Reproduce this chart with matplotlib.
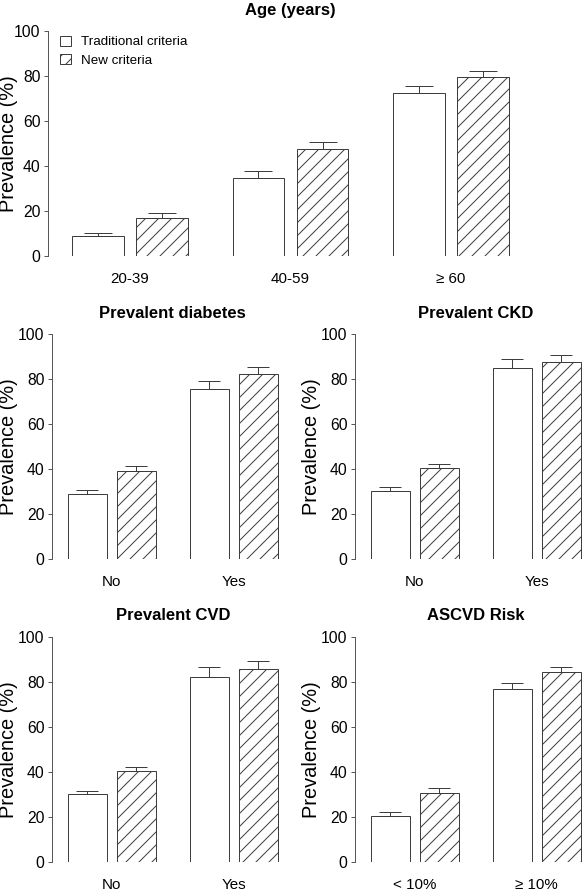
import numpy as np
import matplotlib
matplotlib.use('Agg')
import matplotlib.pyplot as plt

plt.rcParams['font.family'] = ['Liberation Sans', 'DejaVu Sans']
plt.rcParams['hatch.linewidth'] = 0.9
plt.rcParams['hatch.color'] = '#3a3a3a'

#data (prevalence %, upper error)
age_groups = ['20-39', '40-59', '\u2265 60']
age_trad = [8.9, 34.5, 72.3]
age_trad_err = [1.3, 3.1, 3.1]
age_new = [17.0, 47.6, 79.7]
age_new_err = [2.0, 3.1, 2.4]

yes_no = ['No', 'Yes']
dm_trad = [28.6, 75.7]
dm_trad_err = [1.8, 3.5]
dm_new = [38.9, 82.2]
dm_new_err = [2.2, 3.0]

ckd_trad = [30.1, 84.9]
ckd_trad_err = [1.9, 3.8]
ckd_new = [40.2, 87.4]
ckd_new_err = [1.9, 3.1]

cvd_trad = [30.0, 82.0]
cvd_trad_err = [1.7, 4.7]
cvd_new = [40.2, 85.5]
cvd_new_err = [2.1, 3.8]

risk_groups = ['< 10%', '\u2265 10%']
risk_trad = [20.6, 76.8]
risk_trad_err = [1.7, 2.5]
risk_new = [30.6, 84.5]
risk_new_err = [2.4, 2.2]

EDGE = '#3a3a3a'
W, H, DPI = 583, 891, 78

fig = plt.figure(figsize=(W / DPI, H / DPI), dpi=DPI)


def panel(rect, title, cats, trad, trad_err, new, new_err, xlim, capsize, ylab_x):
    ax = fig.add_axes(rect)
    x = np.arange(len(cats))
    w = 0.32
    b1 = ax.bar(x - 0.2, trad, w, color='white', edgecolor=EDGE, linewidth=0.9,
                label='Traditional criteria')
    b2 = ax.bar(x + 0.2, new, w, color='white', edgecolor=EDGE, linewidth=0.9,
                hatch='//', label='New criteria')
    ax.errorbar(x - 0.2, trad, yerr=[np.zeros(len(trad)), trad_err], fmt='none',
                ecolor=EDGE, elinewidth=0.9, capsize=capsize, capthick=0.9)
    ax.errorbar(x + 0.2, new, yerr=[np.zeros(len(new)), new_err], fmt='none',
                ecolor=EDGE, elinewidth=0.9, capsize=capsize, capthick=0.9)
    ax.set_ylim(0, 100)
    ax.set_xlim(*xlim)
    ax.set_yticks([0, 20, 40, 60, 80, 100])
    ax.set_xticks(x)
    ax.set_xticklabels(cats)
    for s in ['top', 'right', 'bottom']:
        ax.spines[s].set_visible(False)
    ax.spines['left'].set_color('#555555')
    ax.spines['left'].set_linewidth(0.9)
    ax.tick_params(axis='y', length=4, width=0.9, color='#555555', labelsize=14.5, pad=3)
    ax.tick_params(axis='x', length=0, labelsize=14, pad=15)
    ax.set_ylabel('Prevalence (%)', fontsize=18.5)
    ax.yaxis.set_label_coords(ylab_x, 0.5)
    ax.set_title(title, fontsize=15.3, fontweight='bold', pad=15)
    return ax, b1, b2


# top panel: age
ax, b1, b2 = panel([48 / W, 1 - 256 / H, 484 / W, 225 / H], 'Age (years)',
                   age_groups, age_trad, age_trad_err, age_new, age_new_err,
                   (-0.511, 2.505), 13, (18 - 48) / 484)
ax.legend(handles=[b1, b2], loc='upper left', bbox_to_anchor=(0.025, 0.98),
          frameon=False, fontsize=12.3, borderpad=0, borderaxespad=0,
          handlelength=0.8, handleheight=0.8, handletextpad=0.8, labelspacing=0.42)

# middle + bottom panels
lw = 1.98 * 122 / W
ylx = (18 - 52) / (1.98 * 122)
panel([52 / W, 1 - 558.7 / H, lw, 224.7 / H], 'Prevalent diabetes',
      yes_no, dm_trad, dm_trad_err, dm_new, dm_new_err, (-0.49, 1.49), 10, ylx)
panel([355 / W, 1 - 558.7 / H, lw, 224.7 / H], 'Prevalent CKD',
      yes_no, ckd_trad, ckd_trad_err, ckd_new, ckd_new_err, (-0.49, 1.49), 10, ylx)
panel([52 / W, 1 - 862 / H, lw, 225.3 / H], 'Prevalent CVD',
      yes_no, cvd_trad, cvd_trad_err, cvd_new, cvd_new_err, (-0.49, 1.49), 10, ylx)
panel([355 / W, 1 - 862 / H, lw, 225.3 / H], 'ASCVD Risk',
      risk_groups, risk_trad, risk_trad_err, risk_new, risk_new_err, (-0.49, 1.49), 10, ylx)

fig.savefig('out.png', dpi=DPI)
